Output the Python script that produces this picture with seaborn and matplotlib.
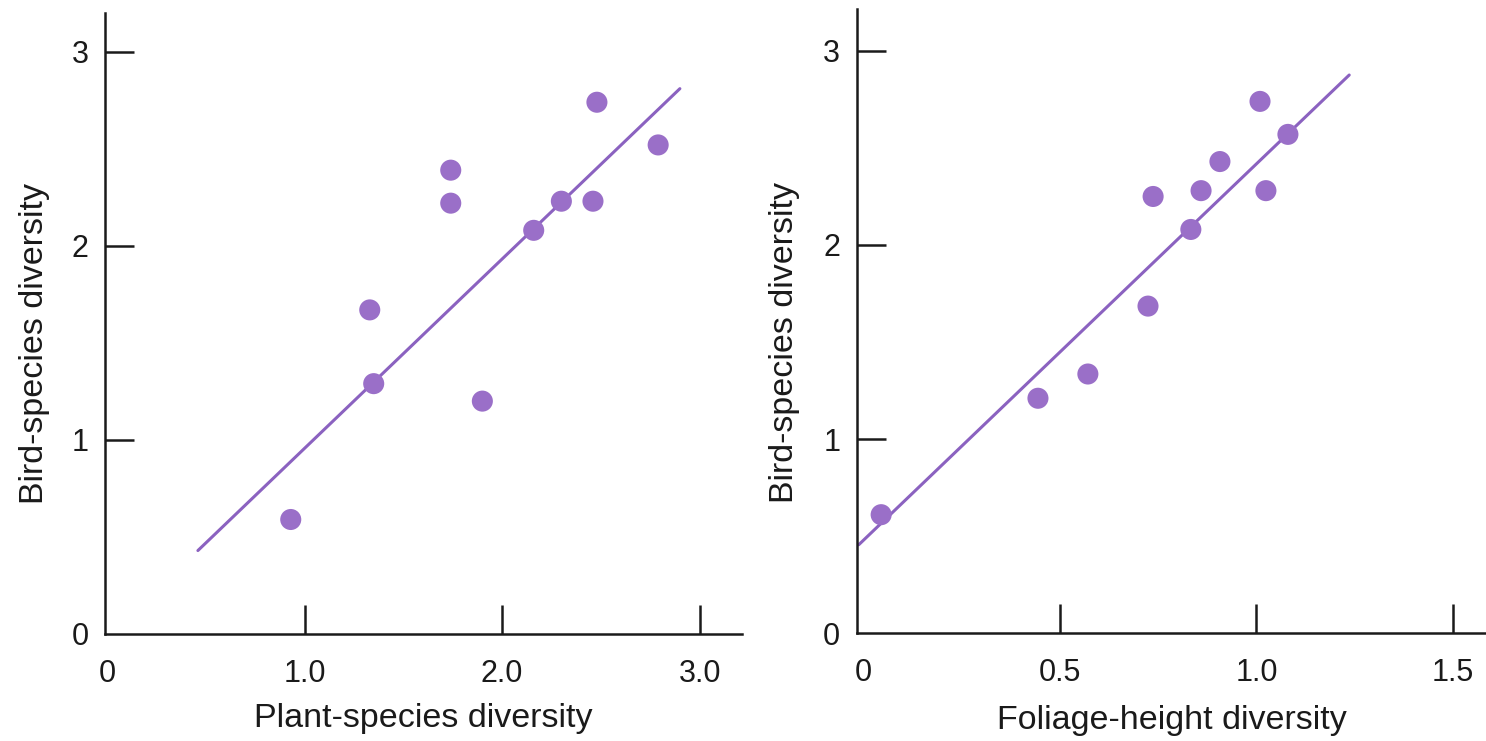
import matplotlib
matplotlib.use('Agg')
import matplotlib.pyplot as plt
import numpy as np
import pandas as pd
import seaborn as sns

sns.set_style("ticks")
plt.rcParams['font.family'] = ['Liberation Sans', 'DejaVu Sans']

# ── 数据 ──
plant_x = [0.93, 1.33, 1.35, 1.74, 1.74, 1.90, 2.16, 2.30, 2.46, 2.48, 2.79]
plant_y = [0.59, 1.67, 1.29, 2.39, 2.22, 1.20, 2.08, 2.23, 2.23, 2.74, 2.52]
plant_line_x = [0.46, 2.90]
plant_line_y = [0.43, 2.81]

foliage_x = [0.045, 0.444, 0.571, 0.724, 0.737, 0.833, 0.859, 0.907, 1.009, 1.024, 1.080]
foliage_y = [0.61, 1.21, 1.335, 1.685, 2.25, 2.08, 2.28, 2.43, 2.74, 2.28, 2.57]
foliage_line_x = [-0.012, 1.236]
foliage_line_y = [0.455, 2.876]

y_ticks = [0, 1, 2, 3]
y_ticklabels = ['0', '1', '2', '3']
plant_xticks = [0, 1.0, 2.0, 3.0]
plant_xticklabels = ['0', '1.0', '2.0', '3.0']
foliage_xticks = [0, 0.5, 1.0, 1.5]
foliage_xticklabels = ['0', '0.5', '1.0', '1.5']

POINT_C = '#9a6fc8'
LINE_C = '#8b62c0'

fig = plt.figure(figsize=(14.86, 7.41), dpi=100)
ax1 = fig.add_axes([0.0707, 0.1444, 0.4287, 0.8381])
ax2 = fig.add_axes([0.5767, 0.1457, 0.4233, 0.8421])


def draw_panel(ax, xs, ys, lx, ly, xticks, xticklabels, xlabel, xlim, ylim):
    df = pd.DataFrame({'x': xs, 'y': ys})
    line = pd.DataFrame({'x': lx, 'y': ly})
    sns.lineplot(data=line, x='x', y='y', color=LINE_C, linewidth=2.2, ax=ax)
    sns.scatterplot(data=df, x='x', y='y', color=POINT_C, s=230,
                    edgecolor='none', ax=ax, zorder=3)
    ax.set_xlim(*xlim)
    ax.set_ylim(*ylim)
    ax.set_xticks(xticks)
    ax.set_xticklabels(xticklabels)
    ax.set_yticks(y_ticks)
    ax.set_yticklabels(y_ticklabels)
    for s in ['top', 'right']:
        ax.spines[s].set_visible(False)
    for s in ['left', 'bottom']:
        ax.spines[s].set_linewidth(1.8)
        ax.spines[s].set_color('#1a1a1a')
    ax.tick_params(axis='both', direction='in', length=21, width=1.8,
                   color='#1a1a1a', labelsize=22, labelcolor='#1a1a1a')
    ax.tick_params(axis='x', pad=18)
    ax.tick_params(axis='y', pad=12)
    # 原点处不画刻度线，只保留 "0" 标签
    ax.xaxis.get_major_ticks()[0].tick1line.set_visible(False)
    ax.yaxis.get_major_ticks()[0].tick1line.set_visible(False)
    ax.set_xlabel(xlabel, fontsize=24.5, color='#1a1a1a')
    ax.set_ylabel('Bird-species diversity', fontsize=24.5, color='#1a1a1a')


draw_panel(ax1, plant_x, plant_y, plant_line_x, plant_line_y,
           plant_xticks, plant_xticklabels, 'Plant-species diversity',
           (-0.01, 3.215), (0, 3.2))
draw_panel(ax2, foliage_x, foliage_y, foliage_line_x, foliage_line_y,
           foliage_xticks, foliage_xticklabels, 'Foliage-height diversity',
           (-0.0165, 1.584), (0, 3.216))

ax1.xaxis.set_label_coords(0.5, -0.111)
ax2.xaxis.set_label_coords(0.5, -0.115)
ax1.yaxis.set_label_coords(-0.086, 0.467)
ax2.yaxis.set_label_coords(-0.091, 0.465)

fig.savefig('out.png', dpi=100)
plt.close()
